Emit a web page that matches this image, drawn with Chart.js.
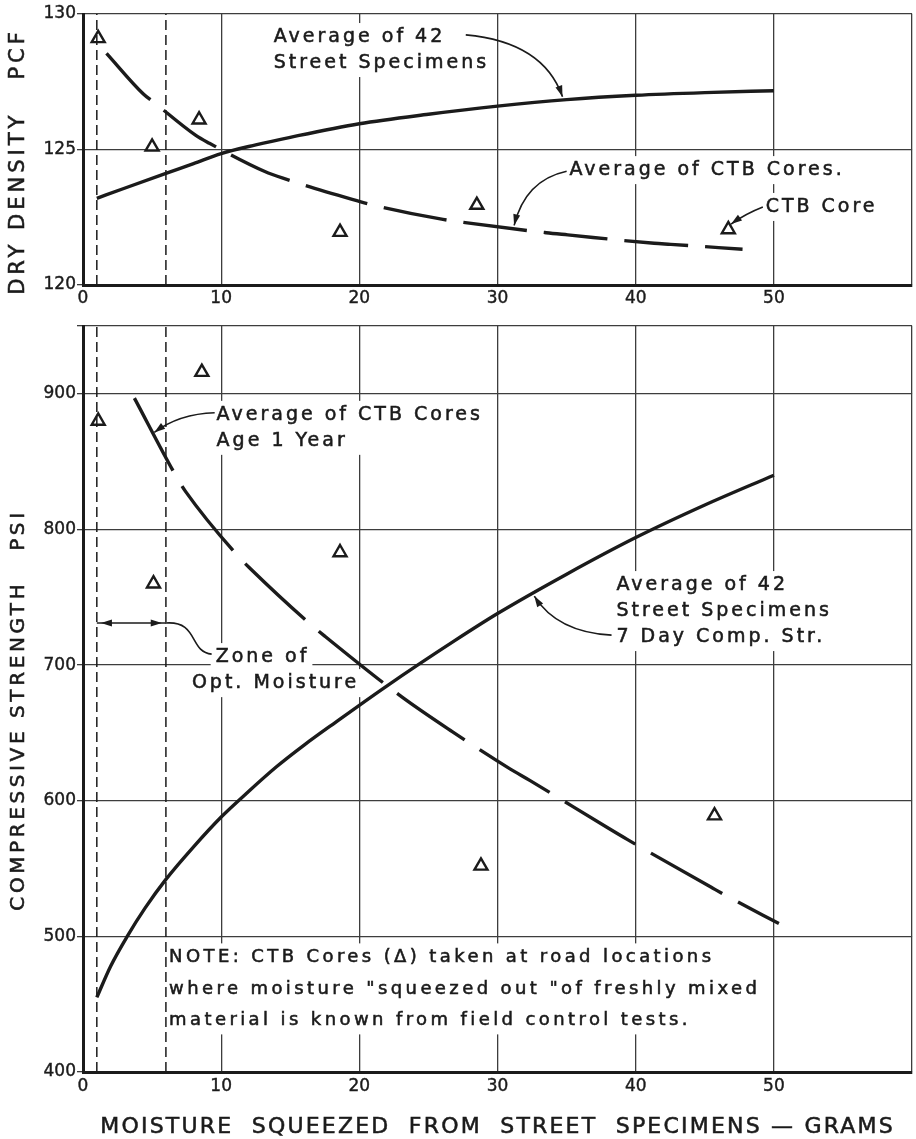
<!DOCTYPE html>
<html lang="en">
<head>
  <meta charset="UTF-8">
  <title>Dry Density and Compressive Strength vs. Moisture Squeezed</title>
  <script src="https://cdn.jsdelivr.net/npm/chart.js"></script>
  <style>
    html, body { margin: 0; padding: 0; background: #fff; overflow: hidden; }
    #wrap { position: relative; width: 916px; height: 1139px; overflow: hidden; background: #fff; }
    #densityChart { position: absolute; left: 0; top: 0; }
    #strengthChart { position: absolute; left: 0; top: 310px; }
  </style>
</head>
<body>
  <div id="wrap">
    <canvas id="densityChart" width="922" height="310"></canvas>
    <canvas id="strengthChart" width="922" height="829"></canvas>
  </div>

  <script>
    // ---- values ----
    const xTickValues = [0, 10, 20, 30, 40, 50, 60];
    const xTickLabels = ['0', '10', '20', '30', '40', '50', ''];
    const zoneBounds = [1, 6];            // zone of optimum moisture (grams)

    // dry density, pcf
    const densityTicks = [120, 125, 130];
    const densityTickLabels = ['120', '125', '130'];
    const densityStreetX = [1, 3, 6, 8, 10, 12.5, 15, 20, 25, 30, 35, 40, 45, 50];
    const densityStreetY = [123.2, 123.57, 124.12, 124.48, 124.85, 125.17, 125.45, 125.95, 126.3, 126.6, 126.84, 127.0, 127.1, 127.17];
    const densityCtbX = [1.7, 4.37, 5.16, 8.14, 9.15, 13.16, 14.47, 19.48, 21.15, 26.05, 27.67, 33.52, 35.08, 41.33, 42.53, 47.73];
    const densityCtbY = [128.55, 127.05, 126.73, 125.53, 125.23, 124.19, 123.94, 123.16, 122.93, 122.42, 122.3, 121.93, 121.85, 121.54, 121.5, 121.32];
    const densityCoreX = [1.1, 5.0, 8.4, 18.6, 28.5, 46.7];
    const densityCoreY = [129.1, 125.1, 126.1, 121.95, 122.95, 122.05];

    // compressive strength, psi
    const strengthTicks = [400, 500, 600, 700, 800, 900, 950];
    const strengthTickLabels = ['400', '500', '600', '700', '800', '900', ''];
    const strengthStreetX = [1, 2, 3.2, 4.5, 6, 8, 10, 12, 14, 16, 18.3, 21.9, 26.9, 30, 35, 40, 45, 50];
    const strengthStreetY = [455, 478, 500, 521, 542, 566, 588, 607, 625, 641, 658, 684, 718, 738, 767, 794, 818, 840];
    const strengthCtbX = [3.72, 6.82, 7.43, 11.25, 12.08, 16.38, 17.55, 23.07, 26.72, 30.9, 32.33, 38.06, 39.38, 45.58, 46.9, 50.36];
    const strengthCtbY = [896.8, 837.8, 827.9, 780, 771.4, 730.8, 720.9, 676.6, 651, 623.5, 615, 579.5, 571.5, 535.5, 528, 509.5];
    const strengthCoreX = [1.1, 5.1, 8.6, 18.6, 28.8, 45.7];
    const strengthCoreY = [880, 760, 916, 783, 552, 589];

    const ink = '#1b1b1b';
    const gridInk = '#3d3d3d';
    const face = '"DejaVu Sans", sans-serif';

    function pts(xs, ys) {
      return xs.map((x, i) => ({ x: x, y: ys[i] }));
    }

    function toPx(chart, p) {
      return [chart.scales.x.getPixelForValue(p[0]), chart.scales.y.getPixelForValue(p[1])];
    }

    function arrowHead(ctx, tip, from) {
      const a = Math.atan2(tip[1] - from[1], tip[0] - from[0]);
      const len = 11, half = 3.5;
      const bx = tip[0] - len * Math.cos(a), by = tip[1] - len * Math.sin(a);
      ctx.beginPath();
      ctx.moveTo(tip[0], tip[1]);
      ctx.lineTo(bx + half * Math.sin(a), by - half * Math.cos(a));
      ctx.lineTo(bx - half * Math.sin(a), by + half * Math.cos(a));
      ctx.closePath();
      ctx.fill();
    }

    // pen lettering is heavier than the plain font, so stroke it lightly too
    function letter(ctx, s, x, y) {
      ctx.fillText(s, x, y);
      ctx.strokeText(s, x, y);
    }

    function noteFont(ctx, n) {
      ctx.font = (n.size || 19) + 'px ' + face;
      ctx.letterSpacing = (n.spacing || 3) + 'px';
    }

    // labels, leader lines and axis titles, placed through the chart's scales
    const labelsPlugin = {
      id: 'labels',
      beforeDatasetsDraw(chart, args, opts) {
        // white patches behind the lettering (the grid is broken there)
        const ctx = chart.ctx;
        ctx.save();
        ctx.fillStyle = '#fff';
        for (const n of opts.notes) {
          noteFont(ctx, n);
          const [x, y] = toPx(chart, [n.x, n.y]);
          const w = Math.max(...n.lines.map(s => ctx.measureText(s).width));
          const h = (n.lines.length - 1) * (n.gap || 26);
          ctx.fillRect(x - 5, y - 14, w + 8, h + 28);
        }
        ctx.restore();
      },
      afterDatasetsDraw(chart, args, opts) {
        const ctx = chart.ctx;
        ctx.save();
        ctx.strokeStyle = ink;
        ctx.fillStyle = ink;
        ctx.lineWidth = 1.6;

        for (const l of opts.leaders) {
          const a = toPx(chart, l.from), b = toPx(chart, l.to);
          ctx.beginPath();
          ctx.moveTo(a[0], a[1]);
          let last = a;
          if (l.c2) {
            const c1 = toPx(chart, l.c1), c2 = toPx(chart, l.c2);
            ctx.bezierCurveTo(c1[0], c1[1], c2[0], c2[1], b[0], b[1]);
            last = c2;
          } else if (l.c1) {
            const c1 = toPx(chart, l.c1);
            ctx.quadraticCurveTo(c1[0], c1[1], b[0], b[1]);
            last = c1;
          } else {
            ctx.lineTo(b[0], b[1]);
          }
          ctx.stroke();
          if (l.arrow) arrowHead(ctx, b, last);
        }

        for (const h of opts.heads || []) {
          arrowHead(ctx, toPx(chart, h.tip), toPx(chart, h.from));
        }

        ctx.lineWidth = 0.55;
        ctx.textBaseline = 'middle';
        ctx.textAlign = 'left';
        for (const n of opts.notes) {
          noteFont(ctx, n);
          const [x, y] = toPx(chart, [n.x, n.y]);
          n.lines.forEach((s, i) => letter(ctx, s, x, y + i * (n.gap || 26)));
        }
        ctx.restore();
      },
      afterDraw(chart, args, opts) {
        const ctx = chart.ctx;
        const area = chart.chartArea;
        ctx.save();
        ctx.fillStyle = ink;
        ctx.strokeStyle = ink;
        ctx.lineWidth = 0.55;
        ctx.textAlign = 'center';
        ctx.textBaseline = 'middle';
        if (opts.yTitle) {
          const t = opts.yTitle;
          ctx.font = t.size + 'px ' + face;
          ctx.letterSpacing = t.spacing + 'px';
          ctx.save();
          ctx.translate(19, (area.top + area.bottom) / 2 + t.shift);
          ctx.rotate(-Math.PI / 2);
          letter(ctx, t.text, 0, 0);
          ctx.restore();
        }
        if (opts.xTitle) {
          const t = opts.xTitle;
          ctx.font = t.size + 'px ' + face;
          ctx.letterSpacing = t.spacing + 'px';
          letter(ctx, t.text, (area.left + area.right) / 2, area.bottom + t.drop);
        }
        ctx.restore();
      }
    };

    function curve(data, dash) {
      return {
        data: data,
        borderColor: ink,
        borderWidth: 3.4,
        borderDash: dash,
        borderCapStyle: 'butt',
        pointRadius: 0,
        cubicInterpolationMode: 'monotone',
        fill: false
      };
    }

    function zoneLine(x, lo, hi) {
      return {
        data: [{ x: x, y: lo }, { x: x, y: hi }],
        borderColor: ink,
        borderWidth: 1.5,
        borderDash: [10, 5],
        pointRadius: 0,
        fill: false
      };
    }

    function cores(data) {
      return {
        data: data,
        showLine: false,
        pointStyle: 'triangle',
        pointRadius: 7.5,
        pointBorderWidth: 2.4,
        pointBorderColor: ink,
        pointBackgroundColor: '#fff'
      };
    }

    const tickFont = { family: 'DejaVu Sans', size: 17 };

    function makeOptions(yMin, yMax, yTicks, yLabels, xAxisHeight, tickPad, padTop, labels) {
      return {
        responsive: false,
        animation: false,
        events: [],
        layout: { padding: { top: padTop, right: 1, left: 0, bottom: 0 } },
        plugins: { legend: { display: false }, tooltip: { enabled: false }, labels: labels },
        scales: {
          x: {
            type: 'linear',
            min: 0,
            max: 60,
            afterBuildTicks: s => { s.ticks = xTickValues.map(v => ({ value: v })); },
            afterFit: s => { s.height = xAxisHeight; },
            ticks: {
              autoSkip: false,
              maxRotation: 0,
              padding: tickPad,
              color: ink,
              textStrokeColor: ink,
              textStrokeWidth: 0.4,
              font: tickFont,
              callback: v => xTickLabels[xTickValues.indexOf(v)]
            },
            grid: { color: gridInk, lineWidth: 1.3, drawTicks: false },
            border: { color: ink, width: 3 }
          },
          y: {
            min: yMin,
            max: yMax,
            afterBuildTicks: s => { s.ticks = yTicks.map(v => ({ value: v })); },
            afterFit: s => { s.width = 83; },
            ticks: {
              padding: 1,
              color: ink,
              textStrokeColor: ink,
              textStrokeWidth: 0.4,
              font: tickFont,
              callback: v => yLabels[yTicks.indexOf(v)]
            },
            grid: { color: gridInk, lineWidth: 1.3, tickLength: 6 },
            border: { color: ink, width: 3 }
          }
        }
      };
    }

    // ---- dry density panel ----
    new Chart(document.getElementById('densityChart'), {
      type: 'line',
      plugins: [labelsPlugin],
      data: {
        datasets: [
          zoneLine(zoneBounds[0], 120, 130),
          zoneLine(zoneBounds[1], 120, 130),
          curve(pts(densityStreetX, densityStreetY), []),
          curve(pts(densityCtbX, densityCtbY), [64, 17]),
          cores(pts(densityCoreX, densityCoreY))
        ]
      },
      options: makeOptions(120, 130, densityTicks, densityTickLabels, 25, 3, 14, {
        yTitle: { text: 'DRY DENSITY   PCF', shift: 12, size: 21, spacing: 4 },
        notes: [
          { lines: ['Average of 42', 'Street Specimens'], x: 13.8, y: 129.15 },
          { lines: ['Average of CTB Cores.'], x: 35.2, y: 124.24 },
          { lines: ['CTB Core'], x: 49.4, y: 122.88 }
        ],
        leaders: [
          { from: [27.7, 129.23], c1: [33.3, 128.97], to: [34.7, 126.95], arrow: true },
          { from: [35.0, 124.2], c1: [32.0, 123.87], to: [31.2, 122.2], arrow: true },
          { from: [49.2, 122.88], c1: [47.9, 122.62], to: [46.9, 122.25], arrow: true }
        ]
      })
    });

    // ---- compressive strength panel ----
    new Chart(document.getElementById('strengthChart'), {
      type: 'line',
      plugins: [labelsPlugin],
      data: {
        datasets: [
          zoneLine(zoneBounds[0], 400, 950),
          zoneLine(zoneBounds[1], 400, 950),
          curve(pts(strengthStreetX, strengthStreetY), []),
          curve(pts(strengthCtbX, strengthCtbY), [82, 18]),
          cores(pts(strengthCoreX, strengthCoreY))
        ]
      },
      options: makeOptions(400, 950, strengthTicks, strengthTickLabels, 67, 4, 16, {
        yTitle: { text: 'COMPRESSIVE STRENGTH   PSI', shift: 11, size: 20, spacing: 3.6 },
        xTitle: { text: 'MOISTURE  SQUEEZED  FROM  STREET  SPECIMENS — GRAMS', drop: 55, size: 22, spacing: 2.2 },
        notes: [
          { lines: ['Average of CTB Cores', 'Age 1 Year'], x: 9.67, y: 884.5 },
          { lines: ['Zone of'], x: 9.6, y: 705.9 },
          { lines: ['Opt. Moisture'], x: 7.88, y: 686.7 },
          { lines: ['Average of 42', 'Street Specimens', '7 Day Comp. Str.'], x: 38.6, y: 759 },
          { lines: ['NOTE: CTB Cores (Δ) taken at road locations',
                    'where moisture "squeezed out "of freshly mixed',
                    'material is known from field control tests.'],
            x: 6.23, y: 484.5, gap: 31.5, size: 18, spacing: 3.4 }
        ],
        leaders: [
          { from: [9.53, 886], c1: [6.95, 885.2], to: [5.16, 871.5], arrow: true },
          { from: [5.95, 731], c1: [8.38, 733.2], c2: [7.66, 709.6], to: [9.31, 708.1] },
          { from: [1.0, 731], to: [6.0, 731] },
          { from: [38.25, 722.1], c1: [34.3, 724.3], to: [32.66, 750.9], arrow: true }
        ],
        heads: [
          { tip: [1.3, 731], from: [3, 731] },
          { tip: [5.7, 731], from: [3, 731] }
        ]
      })
    });
  </script>
</body>
</html>
